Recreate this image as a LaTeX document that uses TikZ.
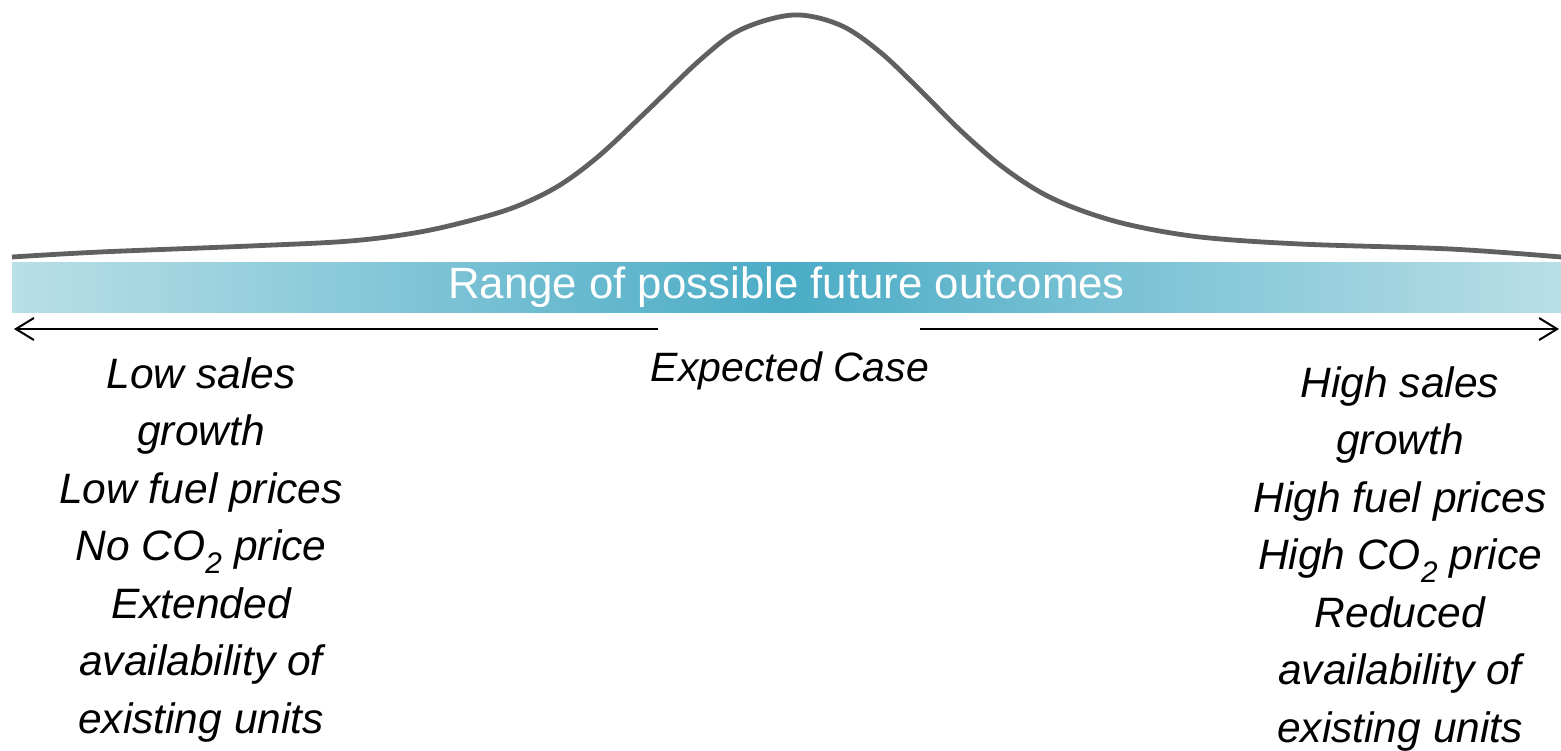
\documentclass[tikz,border=0pt]{standalone}
\usepackage{fontspec}
\setmainfont{Liberation Sans}
\usetikzlibrary{arrows.meta}
\definecolor{curvegray}{HTML}{606060}
\definecolor{baredge}{HTML}{B9DFE7}
\definecolor{barmid}{HTML}{4BACC6}
\tikzset{
  scen/.style={font=\fontsize{42.5}{57.5}\selectfont\itshape, align=center, inner sep=0pt},
  expcase/.style={font=\fontsize{41}{57.5}\selectfont\itshape, align=center, inner sep=0pt},
  rangebar/.style={minimum width=1549pt, minimum height=50pt, inner sep=0pt,
     left color=baredge, right color=baredge, middle color=barmid,
     text=white, font=\fontsize{43.8}{50}\selectfont},
  rangearrow/.style={draw=black, line width=2pt, -{Straight Barb[length=18pt,width=22pt,line width=2pt]}},
  bell/.style={draw=curvegray, line width=4.8pt}
}
\begin{document}
\begin{tikzpicture}[x=1pt,y=-1pt]
\useasboundingbox (0,0) rectangle (1561,750);
% bell curve
\draw[bell] plot[smooth, tension=0.55] coordinates {
 (12,257) (100,252) (250,246) (350,241) (420,232) (480,218) (520,205)
 (560,185) (600,155) (650,108) (700,60) (740,30) (793,15) (840,25)
 (880,52) (920,90) (960,130) (1000,165) (1040,192) (1080,210) (1130,225)
 (1200,237) (1300,244) (1450,249) (1561,257)};
% bar
\node[rangebar] (bar) at (786.5,287) {Range of possible future outcomes};
% arrow
\coordinate (aL) at (14,329);
\coordinate (gL) at (658,329);
\coordinate (gR) at (920,329);
\coordinate (aR) at (1559,329);
\draw[rangearrow] (gL) -- (aL);
\draw[rangearrow] (gR) -- (aR);
% texts
\node[expcase] (exp) at (790,371) {Expected Case};
\node[scen] (low) at (201,550) {Low sales\\growth\\Low fuel prices\\No CO\textsubscript{2} price\\Extended\\availability of\\existing units};
\node[scen] (high) at (1400,559) {High sales\\growth\\High fuel prices\\High CO\textsubscript{2} price\\Reduced\\availability of\\existing units};
\end{tikzpicture}
\end{document}
